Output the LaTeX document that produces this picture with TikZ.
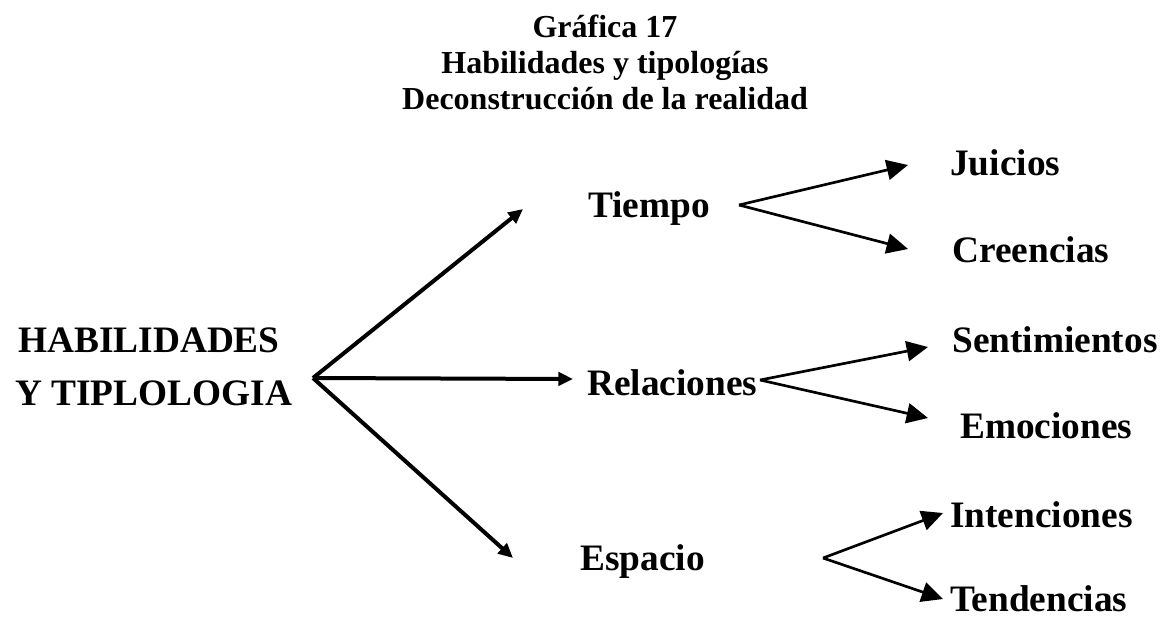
\documentclass[tikz,border=0pt]{standalone}
\usepackage{fontspec}
\setmainfont{Liberation Serif}
\usetikzlibrary{arrows.meta}

\tikzset{
  titulo/.style={font=\fontsize{24}{27}\selectfont\bfseries, anchor=base, inner sep=0pt},
  rama/.style={font=\fontsize{28}{31}\selectfont\bfseries, anchor=base west, inner sep=0pt},
  flecha/.style={line width=3pt, black, -{Triangle[length=11pt,width=10pt]}},
  flechita/.style={line width=2pt, black, -{Triangle[length=16pt,width=15pt]}},
}

\begin{document}
\begin{tikzpicture}[x=0.75pt,y=-0.75pt]
            \useasboundingbox (0,0) rectangle (1162,618);

            \node[titulo] (T1) at (605, 37)  {Gráfica 17};
            \node[titulo] (T2) at (605, 73)  {Habilidades y tipologías};
            \node[titulo] (T3) at (605, 109) {Deconstrucción de la realidad};

            \node[rama] (HAB)  at (18, 352)  {HABILIDADES};
            \node[rama] (TIP)  at (15, 405)  {Y TIPLOLOGIA};

            \node[rama] (TIE)  at (588, 217) {Tiempo};
            \node[rama] (REL)  at (587, 395) {Relaciones};
            \node[rama] (ESP)  at (580, 570) {Espacio};

            \node[rama] (JUI)  at (950, 175) {Juicios};
            \node[rama] (CRE)  at (952, 262) {Creencias};
            \node[rama] (SEN)  at (952, 352) {Sentimientos};
            \node[rama] (EMO)  at (960, 438) {Emociones};
            \node[rama] (INT)  at (950, 527) {Intenciones};
            \node[rama] (TEN)  at (950, 611) {Tendencias};

            % puntos de salida y puntas
            \coordinate (hub)  at (313, 378);
            \coordinate (pTIE) at (523, 209);
            \coordinate (pREL) at (573, 379);
            \coordinate (pESP) at (513, 558);

            \coordinate (fTIE) at (739, 205);
            \coordinate (fREL) at (760, 380);
            \coordinate (fESP) at (823, 558);

            \coordinate (pJUI) at (908, 165);
            \coordinate (pCRE) at (908, 249);
            \coordinate (pSEN) at (928, 347);
            \coordinate (pEMO) at (928, 418);
            \coordinate (pINT) at (943, 513);
            \coordinate (pTEN) at (943, 599);

            \draw[flecha] (hub) -- (pTIE);
            \draw[flecha] (hub) -- (pREL);
            \draw[flecha] (hub) -- (pESP);

            \draw[flechita] (fTIE) -- (pJUI);
            \draw[flechita] (fTIE) -- (pCRE);

            \draw[flechita] (fREL) -- (pSEN);
            \draw[flechita] (fREL) -- (pEMO);

            \draw[flechita] (fESP) -- (pINT);
            \draw[flechita] (fESP) -- (pTEN);
        \end{tikzpicture}
\end{document}
